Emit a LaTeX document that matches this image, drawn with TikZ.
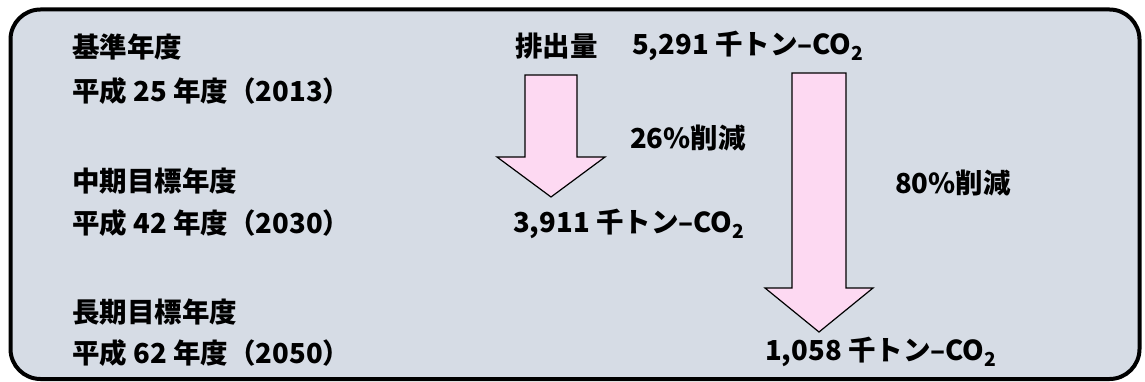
\documentclass[tikz,border=0pt]{standalone}
\usepackage{fontspec}
\setmainfont{Noto Sans CJK JP}
\definecolor{boxfill}{HTML}{D6DCE5}
\definecolor{arrowfill}{HTML}{FDD9F2}
\begin{document}
\begin{tikzpicture}[x=1pt,y=-1pt,
  lbl/.style={anchor=west,inner sep=0pt,font=\fontsize{27.5}{32}\selectfont\bfseries},
  bigarrow/.style={draw=black,line width=1.2pt,fill=arrowfill,line join=miter}]
\useasboundingbox (0,0) rectangle (1145,382);
\draw[line width=4pt,fill=boxfill,rounded corners=30pt] (10.5,9.5) rectangle (1139.5,379);
% left arrow
\draw[bigarrow] (525,75) -- (577,75) -- (577,157) -- (605,157) -- (551,197) -- (497,157) -- (525,157) -- cycle;
% right arrow
\draw[bigarrow] (792,73) -- (846,73) -- (846,288) -- (873,288) -- (819,332) -- (765,288) -- (792,288) -- cycle;
% left labels
\node[lbl] (y1a) at (72,47) {基準年度};
\node[lbl] (y1b) at (72,91) {平成 25 年度（2013）};
\node[lbl] (y2a) at (72,181) {中期目標年度};
\node[lbl] (y2b) at (72,223) {平成 42 年度（2030）};
\node[lbl] (y3a) at (72,312) {長期目標年度};
\node[lbl] (y3b) at (72,353) {平成 62 年度（2050）};
% values
\node[lbl] (em) at (515,46) {排出量};
\node[lbl] (v1) at (632,46) {5,291 千トン–CO\textsubscript{2}};
\node[lbl] (r1) at (630,138) {26\%削減};
\node[lbl] (v2) at (513,224) {3,911 千トン–CO\textsubscript{2}};
\node[lbl] (r2) at (895,183) {80\%削減};
\node[lbl] (v3) at (765,352) {1,058 千トン–CO\textsubscript{2}};
\end{tikzpicture}
\end{document}
